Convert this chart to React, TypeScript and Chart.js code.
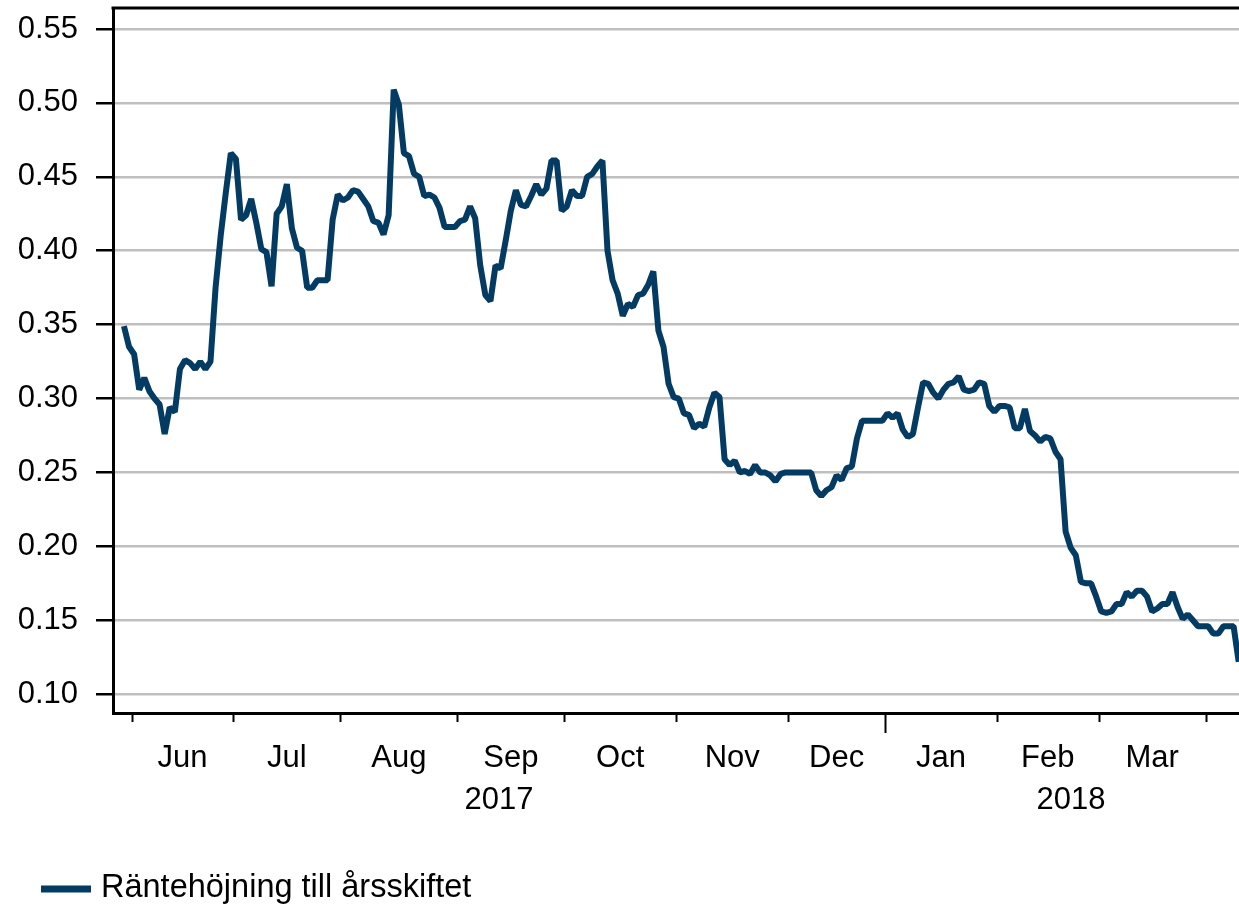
import React, { useEffect, useRef } from "react";
import { Chart, registerables } from "chart.js";

Chart.register(...registerables);

// ---- Data: daily (trading-day) values, one small array per month ----
const may17 = [0.349, 0.335];
const jun17 = [0.330, 0.306, 0.314, 0.305, 0.300, 0.296, 0.276, 0.294, 0.291, 0.320, 0.326, 0.324, 0.320, 0.325, 0.320, 0.325, 0.375, 0.410, 0.439, 0.466];
const jul17 = [0.462, 0.421, 0.424, 0.435, 0.419, 0.401, 0.399, 0.376, 0.425, 0.430, 0.445, 0.415, 0.402, 0.400, 0.375, 0.375, 0.380, 0.380, 0.380, 0.421, 0.438];
const aug17 = [0.434, 0.436, 0.441, 0.440, 0.435, 0.430, 0.420, 0.419, 0.411, 0.424, 0.509, 0.499, 0.466, 0.464, 0.452, 0.450, 0.437, 0.438, 0.436, 0.429, 0.416, 0.416, 0.416];
const sep17 = [0.420, 0.421, 0.430, 0.422, 0.390, 0.370, 0.366, 0.390, 0.388, 0.407, 0.427, 0.441, 0.431, 0.430, 0.437, 0.445, 0.438, 0.442, 0.461, 0.461, 0.427];
const oct17 = [0.430, 0.441, 0.437, 0.437, 0.450, 0.452, 0.457, 0.461, 0.400, 0.380, 0.371, 0.356, 0.364, 0.362, 0.370, 0.371, 0.377, 0.386, 0.346, 0.335, 0.310, 0.301];
const nov17 = [0.300, 0.290, 0.289, 0.280, 0.283, 0.281, 0.294, 0.304, 0.301, 0.259, 0.255, 0.258, 0.250, 0.251, 0.249, 0.255, 0.250, 0.250, 0.248, 0.244, 0.249, 0.250];
const dec17 = [0.250, 0.250, 0.250, 0.250, 0.250, 0.238, 0.234, 0.238, 0.240, 0.248, 0.245, 0.253, 0.254, 0.273, 0.285, 0.285, 0.285, 0.285, 0.285];
const jan18 = [0.290, 0.287, 0.290, 0.279, 0.274, 0.276, 0.294, 0.311, 0.310, 0.304, 0.300, 0.306, 0.310, 0.311, 0.315, 0.306, 0.305, 0.306, 0.311, 0.310, 0.295, 0.291];
const feb18 = [0.295, 0.295, 0.294, 0.280, 0.280, 0.293, 0.278, 0.275, 0.271, 0.274, 0.273, 0.264, 0.259, 0.210, 0.199, 0.194, 0.176, 0.175, 0.175, 0.166];
const mar18 = [0.156, 0.155, 0.156, 0.161, 0.161, 0.169, 0.166, 0.170, 0.170, 0.166, 0.156, 0.158, 0.161, 0.161, 0.169, 0.159, 0.151, 0.154, 0.150, 0.146, 0.146];
const apr18 = [0.146, 0.141, 0.141, 0.146, 0.146, 0.146, 0.122];

const monthSeries = [may17, jun17, jul17, aug17, sep17, oct17, nov17, dec17, jan18, feb18, mar18, apr18];
const monthLabels = ["", "Jun", "Jul", "Aug", "Sep", "Oct", "Nov", "Dec", "Jan", "Feb", "Mar", ""];
const yearLabels = ["2017", "2018"];
const yearStartMonth = 8; // jan18 in monthSeries
const yTickValues = [0.10, 0.15, 0.20, 0.25, 0.30, 0.35, 0.40, 0.45, 0.50, 0.55];
const seriesLabel = "Räntehöjning till årsskiftet";

// ---- Styles ----
const FONT = '"Liberation Sans", Arial, Helvetica, sans-serif';
const LINE_COLOR = "#043b63";
const GRID_COLOR = "#bfbfbf";

const values: number[] = monthSeries.flat();
const monthStarts: number[] = [];
{
  let acc = 0;
  for (const m of monthSeries) {
    monthStarts.push(acc);
    acc += m.length;
  }
  monthStarts.push(acc);
}

const axisDecor = {
  id: "axisDecor",
  afterDraw(chart: any) {
    const { ctx, chartArea: ca, scales } = chart;
    const xs = scales.x;
    ctx.save();
    // top frame line
    ctx.strokeStyle = "#000";
    ctx.lineWidth = 3;
    ctx.beginPath();
    ctx.moveTo(ca.left - 1.5, ca.top);
    ctx.lineTo(ca.right, ca.top);
    ctx.stroke();

    // month boundary ticks
    ctx.lineWidth = 2;
    const yearStart = monthStarts[yearStartMonth];
    for (let k = 1; k < monthStarts.length - 1; k++) {
      const s = monthStarts[k];
      const x = Math.round(xs.getPixelForValue(s - 0.5)) + 0.5;
      const len = s === yearStart ? 20 : 9;
      ctx.beginPath();
      ctx.moveTo(x, ca.bottom);
      ctx.lineTo(x, ca.bottom + len);
      ctx.stroke();
    }

    // month labels
    ctx.fillStyle = "#000";
    ctx.font = `31px ${FONT}`;
    ctx.textAlign = "center";
    ctx.textBaseline = "middle";
    for (let k = 1; k < monthLabels.length; k++) {
      if (!monthLabels[k]) continue;
      const a = xs.getPixelForValue(monthStarts[k] - 0.5);
      const b = xs.getPixelForValue(monthStarts[k + 1] - 0.5);
      ctx.fillText(monthLabels[k], (a + b) / 2, ca.bottom + 45);
    }

    // year labels
    const yb = xs.getPixelForValue(yearStart - 0.5);
    ctx.fillText(yearLabels[0], (ca.left + yb) / 2, ca.bottom + 87);
    ctx.fillText(yearLabels[1], (yb + ca.right + 18) / 2, ca.bottom + 87);

    // legend
    const ly = 889;
    ctx.strokeStyle = LINE_COLOR;
    ctx.lineWidth = 7;
    ctx.beginPath();
    ctx.moveTo(41, ly);
    ctx.lineTo(91, ly);
    ctx.stroke();
    ctx.font = `32.5px ${FONT}`;
    ctx.textAlign = "left";
    ctx.fillStyle = "#000";
    ctx.fillText(seriesLabel, 101, ly - 0.5);
    ctx.restore();
  },
};

export default function App() {
  const ref = useRef<HTMLCanvasElement>(null);

  useEffect(() => {
    document.body.style.margin = "0";
    const canvas = ref.current;
    if (!canvas) return;
    Chart.defaults.font.family = FONT;
    const chart = new Chart(canvas, {
      type: "line",
      data: {
        datasets: [
          {
            label: seriesLabel,
            data: values.map((v, i) => ({ x: i, y: v })),
            borderColor: LINE_COLOR,
            backgroundColor: LINE_COLOR,
            borderWidth: 6,
            pointRadius: 0,
            tension: 0,
            borderJoinStyle: "bevel",
            fill: false,
          },
        ],
      },
      options: {
        responsive: false,
        animation: false,
        devicePixelRatio: 1,
        layout: { padding: { top: 8, left: 0, right: 0, bottom: 0 } },
        plugins: {
          legend: { display: false },
          tooltip: { enabled: false },
        },
        scales: {
          x: {
            type: "linear",
            min: -2.15,
            max: 219.06,
            ticks: { display: false },
            grid: { display: false },
            border: { display: true, color: "#000", width: 3 },
            afterFit: (s: any) => {
              s.height = 195;
              s.paddingLeft = 0;
              s.paddingRight = 0;
            },
          },
          y: {
            type: "linear",
            min: 0.0873,
            max: 0.5642,
            afterBuildTicks: (s: any) => {
              s.ticks = yTickValues.map((v) => ({ value: v }));
            },
            ticks: {
              color: "#000",
              font: { size: 31, family: FONT },
              padding: 18,
              callback: (v: any) => Number(v).toFixed(2),
            },
            grid: {
              color: GRID_COLOR,
              lineWidth: 2.5,
              drawTicks: true,
              tickLength: 17,
              tickColor: "#000",
              tickWidth: 2.5,
            },
            border: { display: true, color: "#000", width: 3 },
            afterFit: (s: any) => {
              s.width = 113;
              s.paddingTop = 0;
              s.paddingBottom = 0;
            },
          },
        },
      },
      plugins: [axisDecor],
    });
    return () => chart.destroy();
  }, []);

  return <canvas ref={ref} width={1239} height={908} style={{ display: "block" }} />;
}
